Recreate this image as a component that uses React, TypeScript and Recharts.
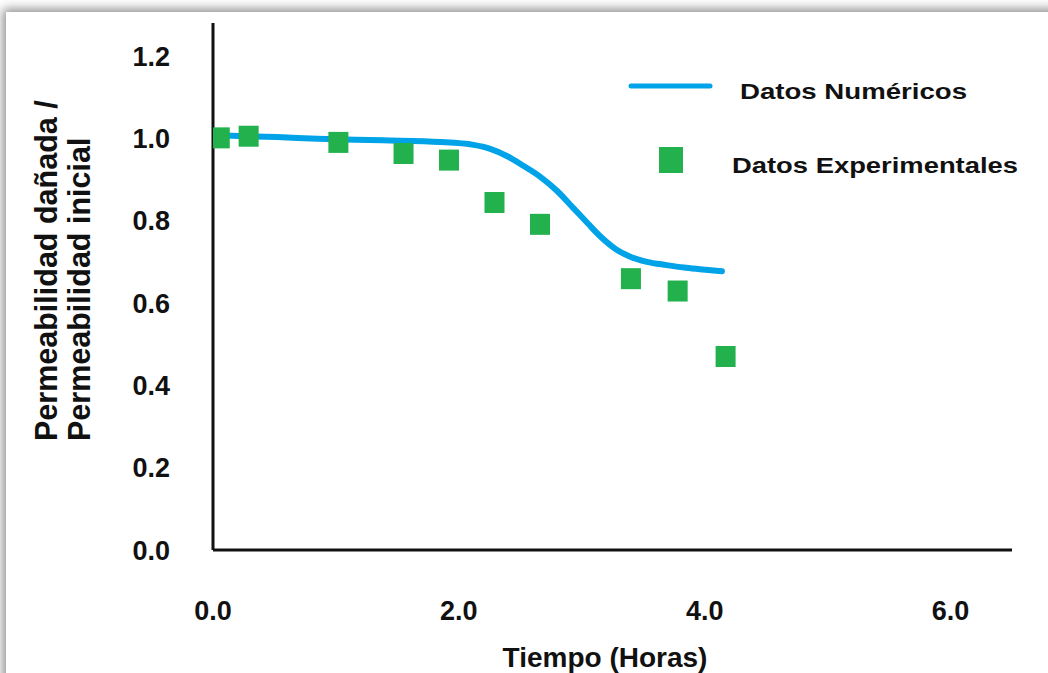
import React from 'react'
import { ComposedChart, Line, Scatter, XAxis, YAxis, Legend } from 'recharts'

// experimental points (hours, damaged/initial permeability)
const expTime = [0.055, 0.29, 1.02, 1.55, 1.92, 2.29, 2.66, 3.40, 3.78, 4.17]
const expPerm = [1.001, 1.005, 0.990, 0.963, 0.947, 0.844, 0.791, 0.659, 0.629, 0.470]

// numerical model curve
const numTime = [0.05, 0.15, 0.52, 0.85, 1.38, 1.85, 2.12, 2.25, 2.39, 2.52, 2.66, 2.80, 2.93, 3.05, 3.15, 3.28, 3.39, 3.53, 3.69, 3.83, 3.96, 4.14]
const numPerm = [1.007, 1.006, 1.003, 0.999, 0.995, 0.991, 0.984, 0.975, 0.957, 0.934, 0.907, 0.872, 0.831, 0.793, 0.762, 0.730, 0.713, 0.700, 0.692, 0.686, 0.682, 0.677]

const xTicks = [0, 2, 4, 6]
const yTicks = [0, 0.2, 0.4, 0.6, 0.8, 1.0, 1.2]

const NUM_NAME = 'Datos Numéricos'
const EXP_NAME = 'Datos Experimentales'
const xTitle = 'Tiempo (Horas)'
const yTitle = ['Permeabilidad dañada /', 'Permeabilidad inicial']

const BLUE = '#00A2E8'
const GREEN = '#22B14C'
const INK = '#111111'
const FONT = '"Liberation Sans", Arial, sans-serif'

const expData = expTime.map((x, i) => ({ x, y: expPerm[i] }))
const numData = numTime.map((x, i) => ({ x, y: numPerm[i] }))

const SquareDot = ({ cx, cy }: any) => {
  if (cx == null || cy == null) return null
  return <rect x={cx - 10} y={cy - 10.5} width={20} height={21} fill={GREEN} />
}

const YTitle = () => (
  <g fontFamily={FONT} fontWeight={700} fontSize={30.5} fill={INK}>
    <text transform="translate(57,441) rotate(-90)" textAnchor="start">{yTitle[0]}</text>
    <text transform="translate(90,441) rotate(-90)" textAnchor="start">{yTitle[1]}</text>
  </g>
)

const XTitle = () => (
  <text x={605} y={667} textAnchor="middle" fontFamily={FONT} fontWeight={700} fontSize={28} fill={INK}>
    {xTitle}
  </text>
)

const LegendBox = ({ payload }: any) => {
  const items = payload ?? []
  const num = items.find((p: any) => p.value === NUM_NAME)
  const exp = items.find((p: any) => p.value === EXP_NAME)
  return (
    <svg width={440} height={130} style={{ display: 'block' }}>
      {num && (
        <g>
          <line x1={31} y1={26} x2={110} y2={26} stroke={BLUE} strokeWidth={5} strokeLinecap="round" />
          <text x={140} y={39} fontFamily={FONT} fontWeight={700} fontSize={22} fill={INK}
            textLength={227} lengthAdjust="spacingAndGlyphs">{num.value}</text>
        </g>
      )}
      {exp && (
        <g>
          <rect x={59} y={87} width={24} height={26} fill={GREEN} />
          <text x={132} y={113} fontFamily={FONT} fontWeight={700} fontSize={22} fill={INK}
            textLength={286} lengthAdjust="spacingAndGlyphs">{exp.value}</text>
        </g>
      )}
    </svg>
  )
}

export default function App() {
  return (
    <div style={{ position: 'fixed', left: 0, top: 0, width: 1048, height: 673, overflow: 'hidden', background: '#fff' }}>
      <div style={{
        position: 'absolute', left: 6, top: 12, width: 1100, height: 720, background: '#fff',
        boxShadow: '0 0 10px 3px rgba(0,0,0,0.45)'
      }} />
      <div style={{ position: 'absolute', left: 0, top: 0 }}>
        <ComposedChart width={1048} height={673} margin={{ top: 23, right: 36, bottom: 63, left: 113 }}>
          <XAxis type="number" dataKey="x" domain={[0, 6.5]} ticks={xTicks} allowDataOverflow
            tickFormatter={(v: number) => v.toFixed(1)} height={60}
            axisLine={{ stroke: INK, strokeWidth: 3 }} tickLine={false} tickSize={0} tickMargin={51}
            tick={{ fill: INK, fontSize: 27, fontWeight: 700, fontFamily: FONT }}
            label={<XTitle />} />
          <YAxis type="number" dataKey="y" domain={[0, 1.28]} ticks={yTicks} allowDataOverflow
            tickFormatter={(v: number) => v.toFixed(1)} width={100}
            axisLine={{ stroke: INK, strokeWidth: 3 }} tickLine={false} tickSize={0} tickMargin={43}
            tick={{ fill: INK, fontSize: 27, fontWeight: 700, fontFamily: FONT }}
            label={<YTitle />} />
          <Line data={numData} dataKey="y" name={NUM_NAME} type="monotone" stroke={BLUE} strokeWidth={6}
            strokeLinecap="round" dot={false} activeDot={false} legendType="line" isAnimationActive={false} />
          <Scatter data={expData} dataKey="y" name={EXP_NAME} fill={GREEN} shape={<SquareDot />}
            legendType="square" isAnimationActive={false} />
          <Legend layout="horizontal" verticalAlign="middle" align="center" content={<LegendBox />}
            wrapperStyle={{ left: 600, top: 60, width: 440, height: 130 }} />
        </ComposedChart>
      </div>
    </div>
  )
}
